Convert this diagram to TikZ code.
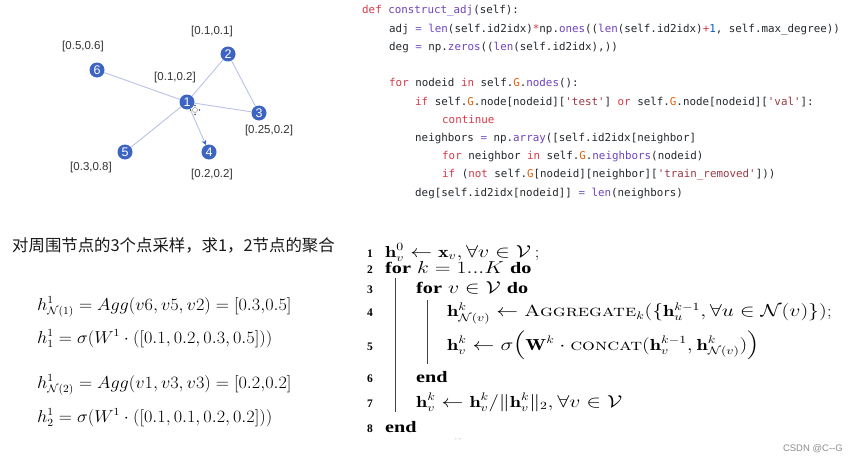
\documentclass[tikz,border=0pt]{standalone}
\usepackage{fontspec}
\usepackage{graphicx}
\usepackage{amsmath,amssymb}
\usetikzlibrary{arrows.meta}
\newfontfamily\sansf{Liberation Sans}
\newfontfamily\codef[Ligatures=TeXOff]{DejaVu Sans Mono}
\newfontfamily\cjk{Noto Sans CJK SC}
\newfontfamily\algf{Liberation Serif}
\definecolor{kwc}{HTML}{D73A49}
\definecolor{fnc}{HTML}{6F42C1}
\definecolor{stc}{HTML}{9C3A46}
\definecolor{gcc}{HTML}{E36209}
\definecolor{nmc}{HTML}{005CC5}
\definecolor{opc}{HTML}{7A5CC8}
\definecolor{txc}{HTML}{24292E}
\definecolor{nodec}{HTML}{3D63C3}
\definecolor{edgec}{HTML}{B9C3E6}
\newcommand\kw[1]{\textcolor{kwc}{#1}}
\newcommand\fn[1]{\textcolor{fnc}{#1}}
\newcommand\st[1]{\textcolor{stc}{#1}}
\newcommand\gc[1]{\textcolor{gcc}{#1}}
\newcommand\nm[1]{\textcolor{nmc}{#1}}
\newcommand\op[1]{\textcolor{opc}{#1}}
\newcommand\kwb[1]{{\algf\bfseries #1}}
\newcommand\ax[1]{\scalebox{1.26}[1]{#1}}
\newcommand\fx[1]{\scalebox{1.055}[1]{#1}}
\tikzset{
  gnode/.style={circle,fill=nodec,text=white,inner sep=0pt,minimum size=15pt,font=\sansf\fontsize{12.5}{12}\selectfont},
  glabel/.style={text=black!80,font=\sansf\fontsize{11.5}{12}\selectfont},
  gedge/.style={draw=edgec,line width=0.9pt},
  codeline/.style={anchor=base west,inner sep=0pt,text=txc,font=\codef\fontsize{10.85}{12}\selectfont},
  fline/.style={anchor=base west,inner sep=0pt,font=\fontsize{16}{18}\selectfont},
  aline/.style={anchor=base west,inner sep=0pt,font=\fontsize{16}{18}\selectfont},
  anum/.style={anchor=base,inner sep=0pt,font=\algf\bfseries\fontsize{11.5}{12}\selectfont},
  abar/.style={draw=black!75,line width=1pt}
}
\begin{document}
\begin{tikzpicture}[x=1pt,y=-1pt]
\useasboundingbox[fill=white] (0,0) rectangle (858,460);
% graph
\node[gnode] (n1) at (187,102) {1};
\node[gnode] (n2) at (228,54) {2};
\node[gnode] (n3) at (259,113) {3};
\node[gnode] (n4) at (209,152) {4};
\node[gnode] (n5) at (125,152) {5};
\node[gnode] (n6) at (97,70) {6};
\draw[gedge] (n6) -- (n1);
\draw[gedge] (n2) -- (n1);
\draw[gedge] (n2) -- (n3);
\draw[gedge] (n1) -- (n3);
\draw[gedge] (n1) -- (n5);
\draw[gedge,-{Stealth[length=5pt,width=5pt,color=nodec]}] (n1) -- (n4);
\node[glabel] (l6) at (83,47) {[0.5,0.6]};
\node[glabel] (l2) at (212,32) {[0.1,0.1]};
\node[glabel] (l1) at (175,78) {[0.1,0.2]};
\node[glabel] (l3) at (269,131) {[0.25,0.2]};
\node[glabel] (l5) at (91,168) {[0.3,0.8]};
\node[glabel] (l4) at (212,175) {[0.2,0.2]};
% small move cursor near node 1
\node[circle,draw=black!50,fill=white,inner sep=0pt,minimum size=5pt] (cur) at (195,110) {};
\foreach \a in {0,90,180,270}{\fill[black!70] (cur.center) ++(\a:4.5pt) circle (0.9pt);}
% code
\node[codeline] (c1) at (362,14) {\kw{def} \fn{construct\_adj}(self):};
\node[codeline] (c2) at (389,32.2) {adj \op{=} \fn{len}(self.id2idx)\kw{*}np.\fn{ones}((\fn{len}(self.id2idx)\kw{+}\nm{1}, self.max\_degree))};
\node[codeline] (c3) at (389,50.4) {deg \op{=} np.\fn{zeros}((\fn{len}(self.id2idx),))};
\node[codeline] (c4) at (389,86.8) {\kw{for} nodeid \kw{in} self.\gc{G}.\fn{nodes}():};
\node[codeline] (c5) at (415,105) {\kw{if} self.\gc{G}.node[nodeid][\st{'test'}] \kw{or} self.\gc{G}.node[nodeid][\st{'val'}]:};
\node[codeline] (c6) at (442,123.2) {\kw{continue}};
\node[codeline] (c7) at (415,141.4) {neighbors \op{=} np.\fn{array}([self.id2idx[neighbor]};
\node[codeline] (c8) at (442,159.6) {\kw{for} neighbor \kw{in} self.\gc{G}.\fn{neighbors}(nodeid)};
\node[codeline] (c9) at (442,177.8) {\kw{if} (\kw{not} self.\gc{G}[nodeid][neighbor][\st{'train\_removed'}]))};
\node[codeline] (c10) at (415,196) {deg[self.id2idx[nodeid]] \op{=} \fn{len}(neighbors)};
% chinese caption
\node[anchor=west,inner sep=0pt,text=black!90,font=\cjk\fontsize{16.4}{17}\selectfont] (cn) at (12,245) {对周围节点的3个点采样，求1，2节点的聚合};
% formulas
\node[fline] (f1) at (37,310) {\fx{$h^1_{\mathcal{N}(1)} = Agg(v6, v5, v2) = [0.3{,}0.5]$}};
\node[fline] (f2) at (37,343) {\fx{$h^1_1 = \sigma(W^1 \cdot ([0.1, 0.2, 0.3, 0.5]))$}};
\node[fline] (f3) at (37,388) {\fx{$h^1_{\mathcal{N}(2)} = Agg(v1, v3, v3) = [0.2{,}0.2]$}};
\node[fline] (f4) at (37,422) {\fx{$h^1_2 = \sigma(W^1 \cdot ([0.1, 0.1, 0.2, 0.2]))$}};
% algorithm
\node[anum] (a1n) at (370,257) {1};
\node[anum] (a2n) at (370,273) {2};
\node[anum] (a3n) at (370,293) {3};
\node[anum] (a4n) at (370,316.5) {4};
\node[anum] (a5n) at (370,350) {5};
\node[anum] (a6n) at (370,382) {6};
\node[anum] (a7n) at (370,407) {7};
\node[anum] (a8n) at (370,432) {8};
\node[aline] (a1) at (385,257) {\ax{$\mathbf{h}^0_v \leftarrow \mathbf{x}_v, \forall v \in \mathcal{V}\,$;}};
\node[aline] (a2) at (385,273) {\ax{\kwb{for} $k = 1...K$ \kwb{do}}};
\node[aline] (a3) at (416,293) {\ax{\kwb{for} $v \in \mathcal{V}$ \kwb{do}}};
\node[aline] (a4) at (447,316.5) {\ax{$\mathbf{h}^k_{\mathcal{N}(v)} \leftarrow \textsc{Aggregate}_k(\{\mathbf{h}^{k-1}_u, \forall u \in \mathcal{N}(v)\})$;}};
\node[aline] (a5) at (447,350) {\ax{$\mathbf{h}^k_v \leftarrow \sigma\Bigl(\mathbf{W}^k \cdot \textsc{concat}(\mathbf{h}^{k-1}_v, \mathbf{h}^k_{\mathcal{N}(v)})\Bigr)$}};
\node[aline] (a6) at (416,382) {\ax{\kwb{end}}};
\node[aline] (a7) at (416,407) {\ax{$\mathbf{h}^k_v \leftarrow \mathbf{h}^k_v / \|\mathbf{h}^k_v\|_2, \forall v \in \mathcal{V}$}};
\node[aline] (a8) at (385,432) {\ax{\kwb{end}}};
\coordinate (b1t) at (395,278);
\coordinate (b1b) at (395,412);
\coordinate (b2t) at (427,300);
\coordinate (b2b) at (427,364);
\draw[abar] (b1t) -- (b1b);
\draw[abar] (b2t) -- (b2b);
% artifacts / watermark
\node[anchor=center,inner sep=0pt,text=black!25,font=\sansf\fontsize{8}{8}\selectfont] (dash) at (458,440) {-\,-};
\node[anchor=base east,inner sep=0pt,text=black!45,font=\sansf\fontsize{9.5}{10}\selectfont] (wm) at (843,451) {CSDN @C-{}-G};
\end{tikzpicture}
\end{document}
